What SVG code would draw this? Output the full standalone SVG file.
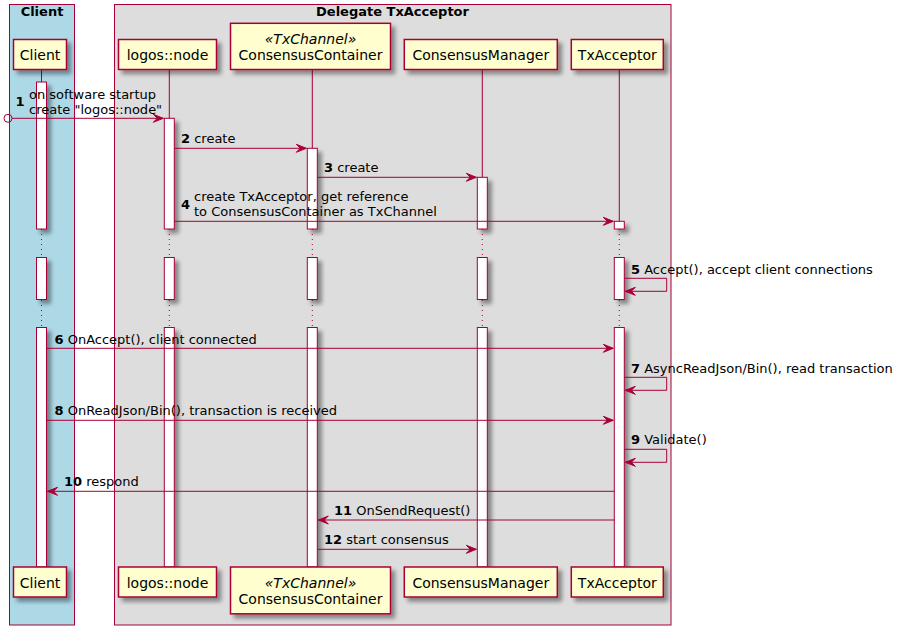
<svg xmlns="http://www.w3.org/2000/svg" width="898" height="635" viewBox="0 0 898 635">
<defs>
<filter id="sh" x="-20%" y="-20%" width="160%" height="160%">
<feGaussianBlur in="SourceAlpha" stdDeviation="2"/>
<feOffset dx="4" dy="4" result="b"/>
<feComponentTransfer><feFuncA type="linear" slope="0.4"/></feComponentTransfer>
<feMerge><feMergeNode/><feMergeNode in="SourceGraphic"/></feMerge>
</filter>
<marker id="ah" viewBox="0 0 12 10" refX="11" refY="5" markerWidth="12" markerHeight="10" markerUnits="userSpaceOnUse" orient="auto">
<polygon points="1,1 11,5 1,9 5,5" fill="#A80036" stroke="#A80036" stroke-width="1"/>
</marker>
</defs>
<style>
text{font-family:"DejaVu Sans","Liberation Sans",sans-serif;fill:#000000}
.t{font-size:13px;font-weight:bold}
.p{font-size:14px}
.pi{font-size:14px;font-style:italic}
.m{font-size:13px}
.n{font-weight:bold}
.part{fill:#FEFECE;stroke:#A80036;stroke-width:1.5}
.act{fill:#FFFFFF;stroke:#A80036;stroke-width:1}
.life{stroke:#A80036;stroke-width:1;fill:none}
.dot{stroke:#A80036;stroke-width:1;stroke-dasharray:1,4;fill:none}
.msg{stroke:#A80036;stroke-width:1;fill:none;marker-end:url(#ah)}
</style>
<rect width="898" height="635" fill="#FFFFFF"/>
<g id="box-client">
<rect x="9.5" y="4.5" width="65" height="620.5" fill="#ADD8E6" stroke="#A80036" stroke-width="1"/>
<text class="t" x="42" y="16" text-anchor="middle">Client</text>
</g>
<g id="box-delegate">
<rect x="114.5" y="4.5" width="556.5" height="620.5" fill="#DDDDDD" stroke="#A80036" stroke-width="1"/>
<text class="t" x="392.5" y="16" text-anchor="middle">Delegate TxAcceptor</text>
</g>
<g id="lifelines">
<path class="life" d="M41.5,69.5V229M41.5,257V300M41.5,327V567"/>
<path class="dot" d="M41.5,229V257M41.5,300V327"/>
<path class="life" d="M169.3,69.5V229M169.3,257V300M169.3,327V567"/>
<path class="dot" d="M169.3,229V257M169.3,300V327"/>
<path class="life" d="M312.3,69.5V229M312.3,257V300M312.3,327V567"/>
<path class="dot" d="M312.3,229V257M312.3,300V327"/>
<path class="life" d="M482.3,69.5V229M482.3,257V300M482.3,327V567"/>
<path class="dot" d="M482.3,229V257M482.3,300V327"/>
<path class="life" d="M619.3,69.5V229M619.3,257V300M619.3,327V567"/>
<path class="dot" d="M619.3,229V257M619.3,300V327"/>
</g>
<g id="activations" filter="url(#sh)">
<rect class="act" x="36.5" y="82" width="10" height="147"/>
<rect class="act" x="36.5" y="257.5" width="10" height="42"/>
<rect class="act" x="36.5" y="327.5" width="10" height="239.5"/>
<rect class="act" x="164.3" y="118.3" width="10" height="110.7"/>
<rect class="act" x="164.3" y="257.5" width="10" height="42"/>
<rect class="act" x="164.3" y="327.5" width="10" height="239.5"/>
<rect class="act" x="307.3" y="148.3" width="10" height="80.7"/>
<rect class="act" x="307.3" y="257.5" width="10" height="42"/>
<rect class="act" x="307.3" y="327.5" width="10" height="239.5"/>
<rect class="act" x="477.3" y="177.3" width="10" height="51.7"/>
<rect class="act" x="477.3" y="257.5" width="10" height="42"/>
<rect class="act" x="477.3" y="327.5" width="10" height="239.5"/>
<rect class="act" x="614.3" y="221.3" width="10" height="7.7"/>
<rect class="act" x="614.3" y="257.5" width="10" height="42"/>
<rect class="act" x="614.3" y="327.5" width="10" height="239.5"/>
</g>
<g id="p-client">
<rect class="part" x="13.5" y="39.5" width="53" height="30" filter="url(#sh)"/>
<text class="p" x="40" y="59.5" text-anchor="middle">Client</text>
<rect class="part" x="13.5" y="567" width="53" height="30" filter="url(#sh)"/>
<text class="p" x="40" y="587.5" text-anchor="middle">Client</text>
</g>
<g id="p-logos">
<rect class="part" x="118.5" y="39.5" width="98" height="30" filter="url(#sh)"/>
<text class="p" x="167.5" y="59.5" text-anchor="middle">logos::node</text>
<rect class="part" x="118.5" y="567" width="98" height="30" filter="url(#sh)"/>
<text class="p" x="167.5" y="587.5" text-anchor="middle">logos::node</text>
</g>
<g id="p-container">
<rect class="part" x="230.5" y="23.3" width="160" height="46.2" filter="url(#sh)"/>
<text class="pi" x="310.5" y="44" text-anchor="middle">«TxChannel»</text>
<text class="p" x="310.5" y="60" text-anchor="middle">ConsensusContainer</text>
<rect class="part" x="230.5" y="567" width="160" height="46.8" filter="url(#sh)"/>
<text class="pi" x="310.5" y="588" text-anchor="middle">«TxChannel»</text>
<text class="p" x="310.5" y="604" text-anchor="middle">ConsensusContainer</text>
</g>
<g id="p-manager">
<rect class="part" x="404.3" y="39.5" width="153" height="30" filter="url(#sh)"/>
<text class="p" x="480.8" y="59.5" text-anchor="middle">ConsensusManager</text>
<rect class="part" x="404.3" y="567" width="153" height="30" filter="url(#sh)"/>
<text class="p" x="480.8" y="587.5" text-anchor="middle">ConsensusManager</text>
</g>
<g id="p-acceptor">
<rect class="part" x="571.3" y="39.5" width="92" height="30" filter="url(#sh)"/>
<text class="p" x="617.3" y="59.5" text-anchor="middle">TxAcceptor</text>
<rect class="part" x="571.3" y="567" width="92" height="30" filter="url(#sh)"/>
<text class="p" x="617.3" y="587.5" text-anchor="middle">TxAcceptor</text>
</g>
<g id="connectors">
<circle cx="8" cy="118.3" r="4" fill="none" stroke="#A80036" stroke-width="1"/>
<line class="msg" x1="12" y1="118.3" x2="163.3" y2="118.3"/>
<line class="msg" x1="174.3" y1="148.3" x2="306.3" y2="148.3"/>
<line class="msg" x1="317.3" y1="177.3" x2="476.3" y2="177.3"/>
<line class="msg" x1="174.3" y1="221.3" x2="613.3" y2="221.3"/>
<polyline class="msg" points="624.3,278.3 666.7,278.3 666.7,291.3 625.3,291.3"/>
<line class="msg" x1="46.5" y1="348.3" x2="613.3" y2="348.3"/>
<polyline class="msg" points="624.3,377.3 666.7,377.3 666.7,390.3 625.3,390.3"/>
<line class="msg" x1="46.5" y1="420.3" x2="613.3" y2="420.3"/>
<polyline class="msg" points="624.3,449.3 666.7,449.3 666.7,462.3 625.3,462.3"/>
<line class="msg" x1="614.3" y1="491.3" x2="47.5" y2="491.3"/>
<line class="msg" x1="614.3" y1="520" x2="318.3" y2="520"/>
<line class="msg" x1="317.3" y1="549.3" x2="476.3" y2="549.3"/>
</g>
<g id="labels">
<text class="m" x="15.5" y="106"><tspan class="n">1</tspan></text>
<text class="m" x="29" y="99">on software startup</text>
<text class="m" x="29" y="114">create "logos::node"</text>
<text class="m" x="181" y="143"><tspan class="n">2</tspan> create</text>
<text class="m" x="324" y="172"><tspan class="n">3</tspan> create</text>
<text class="m" x="181" y="209"><tspan class="n">4</tspan></text>
<text class="m" x="194" y="201">create TxAcceptor, get reference</text>
<text class="m" x="194" y="216">to ConsensusContainer as TxChannel</text>
<text class="m" x="631" y="274"><tspan class="n">5</tspan> Accept(), accept client connections</text>
<text class="m" x="54.5" y="344"><tspan class="n">6</tspan> OnAccept(), client connected</text>
<text class="m" x="631" y="373"><tspan class="n">7</tspan> AsyncReadJson/Bin(), read transaction</text>
<text class="m" x="54.5" y="415"><tspan class="n">8</tspan> OnReadJson/Bin(), transaction is received</text>
<text class="m" x="631" y="444"><tspan class="n">9</tspan> Validate()</text>
<text class="m" x="64" y="486"><tspan class="n">10</tspan> respond</text>
<text class="m" x="334" y="515"><tspan class="n">11</tspan> OnSendRequest()</text>
<text class="m" x="324" y="544"><tspan class="n">12</tspan> start consensus</text>
</g>
</svg>
